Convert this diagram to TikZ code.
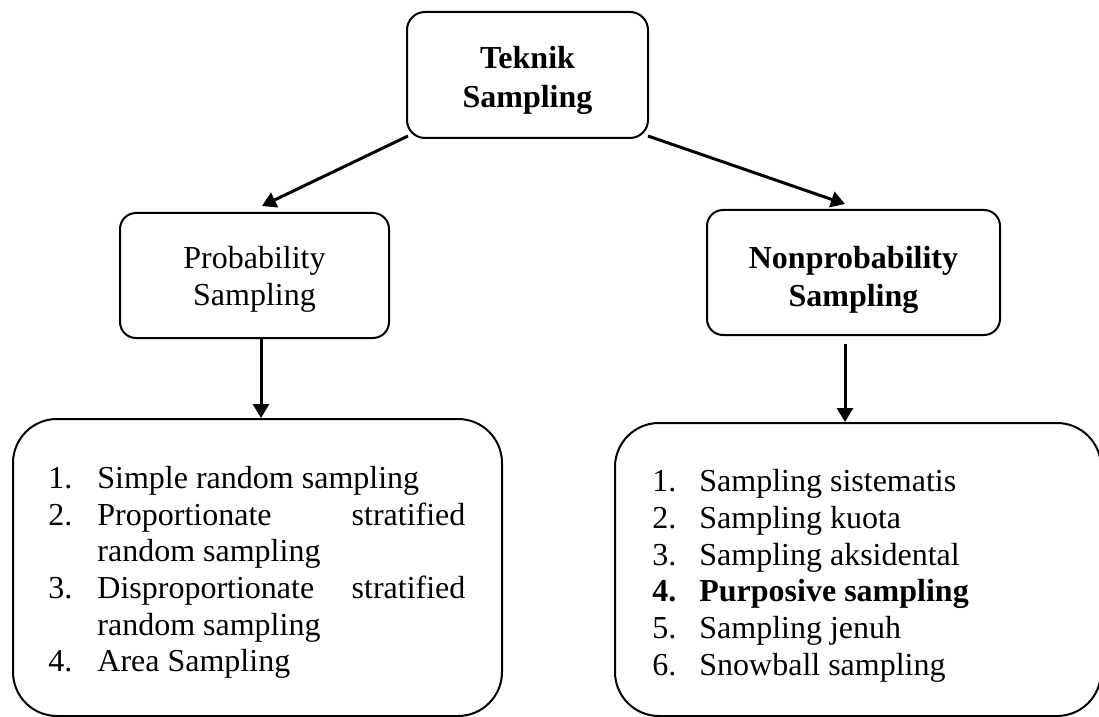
\documentclass[tikz,border=0pt]{standalone}
\usepackage{fontspec}
\setmainfont{Liberation Serif}
\usetikzlibrary{arrows.meta,calc}
\tikzset{
  box/.style={draw, line width=1pt, inner sep=0pt},
  headbox/.style={box, rounded corners=9pt},
  midbox/.style={box, rounded corners=8pt},
  listbox/.style={box, rounded corners=22pt},
  title/.style={inner sep=0pt, align=center, font=\fontsize{16}{19.5}\selectfont},
  item/.style={anchor=base west, inner sep=0pt, font=\fontsize{16}{18.33}\selectfont},
  arr/.style={line width=1.5pt, -{Triangle[length=7pt,width=8pt]}}
}
\begin{document}
\begin{tikzpicture}[x=0.5pt,y=-0.5pt]
\useasboundingbox (0,0) rectangle (1099,717);
% boxes
\node[headbox, minimum width=120.5pt, minimum height=63pt] (top) at (527.5,75) {};
\node[title, font=\fontsize{16}{19.5}\selectfont\bfseries] (topt) at ($(top.center)+(0,5)$) {Teknik\\Sampling};
\node[midbox, minimum width=134.5pt, minimum height=62.5pt] (prob) at (254.5,275.5) {};
\node[title, font=\fontsize{16}{18.5}\selectfont] (probt) at ($(prob.center)+(0,4)$) {Probability\\Sampling};
\node[midbox, minimum width=146.5pt, minimum height=62.5pt] (nonprob) at (853.5,272.5) {};
\node[title, font=\fontsize{16}{19}\selectfont\bfseries] (nonprobt) at ($(nonprob.center)+(0,7)$) {Nonprobability\\Sampling};
\node[listbox, minimum width=244.5pt, minimum height=148.5pt] (bl) at (257.5,567.5) {};
\node[listbox, minimum width=243pt, minimum height=146.5pt] (br) at (858,569.5) {};
% left list
\node[item] (l1n) at (48,488.3) {1.};
\node[item] (l1) at (97,488.3) {Simple random sampling};
\node[item] (l2n) at (48,525) {2.};
\node[item] (l2) at (97,525) {\hbox to 184pt{Proportionate\hfill stratified}};
\node[item] (l2b) at (97,561.7) {random sampling};
\node[item] (l3n) at (48,598.3) {3.};
\node[item] (l3) at (97,598.3) {\hbox to 184pt{Disproportionate\hfill stratified}};
\node[item] (l3b) at (97,635) {random sampling};
\node[item] (l4n) at (48,671.7) {4.};
\node[item] (l4) at (97,671.7) {Area Sampling};
% right list
\node[item] (r1n) at (652,491.7) {1.};
\node[item] (r1) at (699,491.7) {Sampling sistematis};
\node[item] (r2n) at (652,528.3) {2.};
\node[item] (r2) at (699,528.3) {Sampling kuota};
\node[item] (r3n) at (652,565) {3.};
\node[item] (r3) at (699,565) {Sampling aksidental};
\node[item] (r4n) at (652,601.7) {\bfseries 4.};
\node[item] (r4) at (699,601.7) {\bfseries Purposive sampling};
\node[item] (r5n) at (652,638.3) {5.};
\node[item] (r5) at (699,638.3) {Sampling jenuh};
\node[item] (r6n) at (652,675) {6.};
\node[item] (r6) at (699,675) {Snowball sampling};
% connectors
\draw[arr] ($(top.south west)+(2,-3)$) -- ($(prob.north)+(7.5,-6)$);
\draw[arr] ($(top.south east)+(-1,-3)$) -- ($(nonprob.north)+(-8.5,-5)$);
\coordinate (a3s) at ($(prob.south)+(6.5,0)$);
\draw[arr] (a3s) -- (a3s |- bl.north);
\coordinate (a4s) at ($(nonprob.south)+(-8.5,8)$);
\draw[arr] (a4s) -- (a4s |- br.north);
\end{tikzpicture}
\end{document}
